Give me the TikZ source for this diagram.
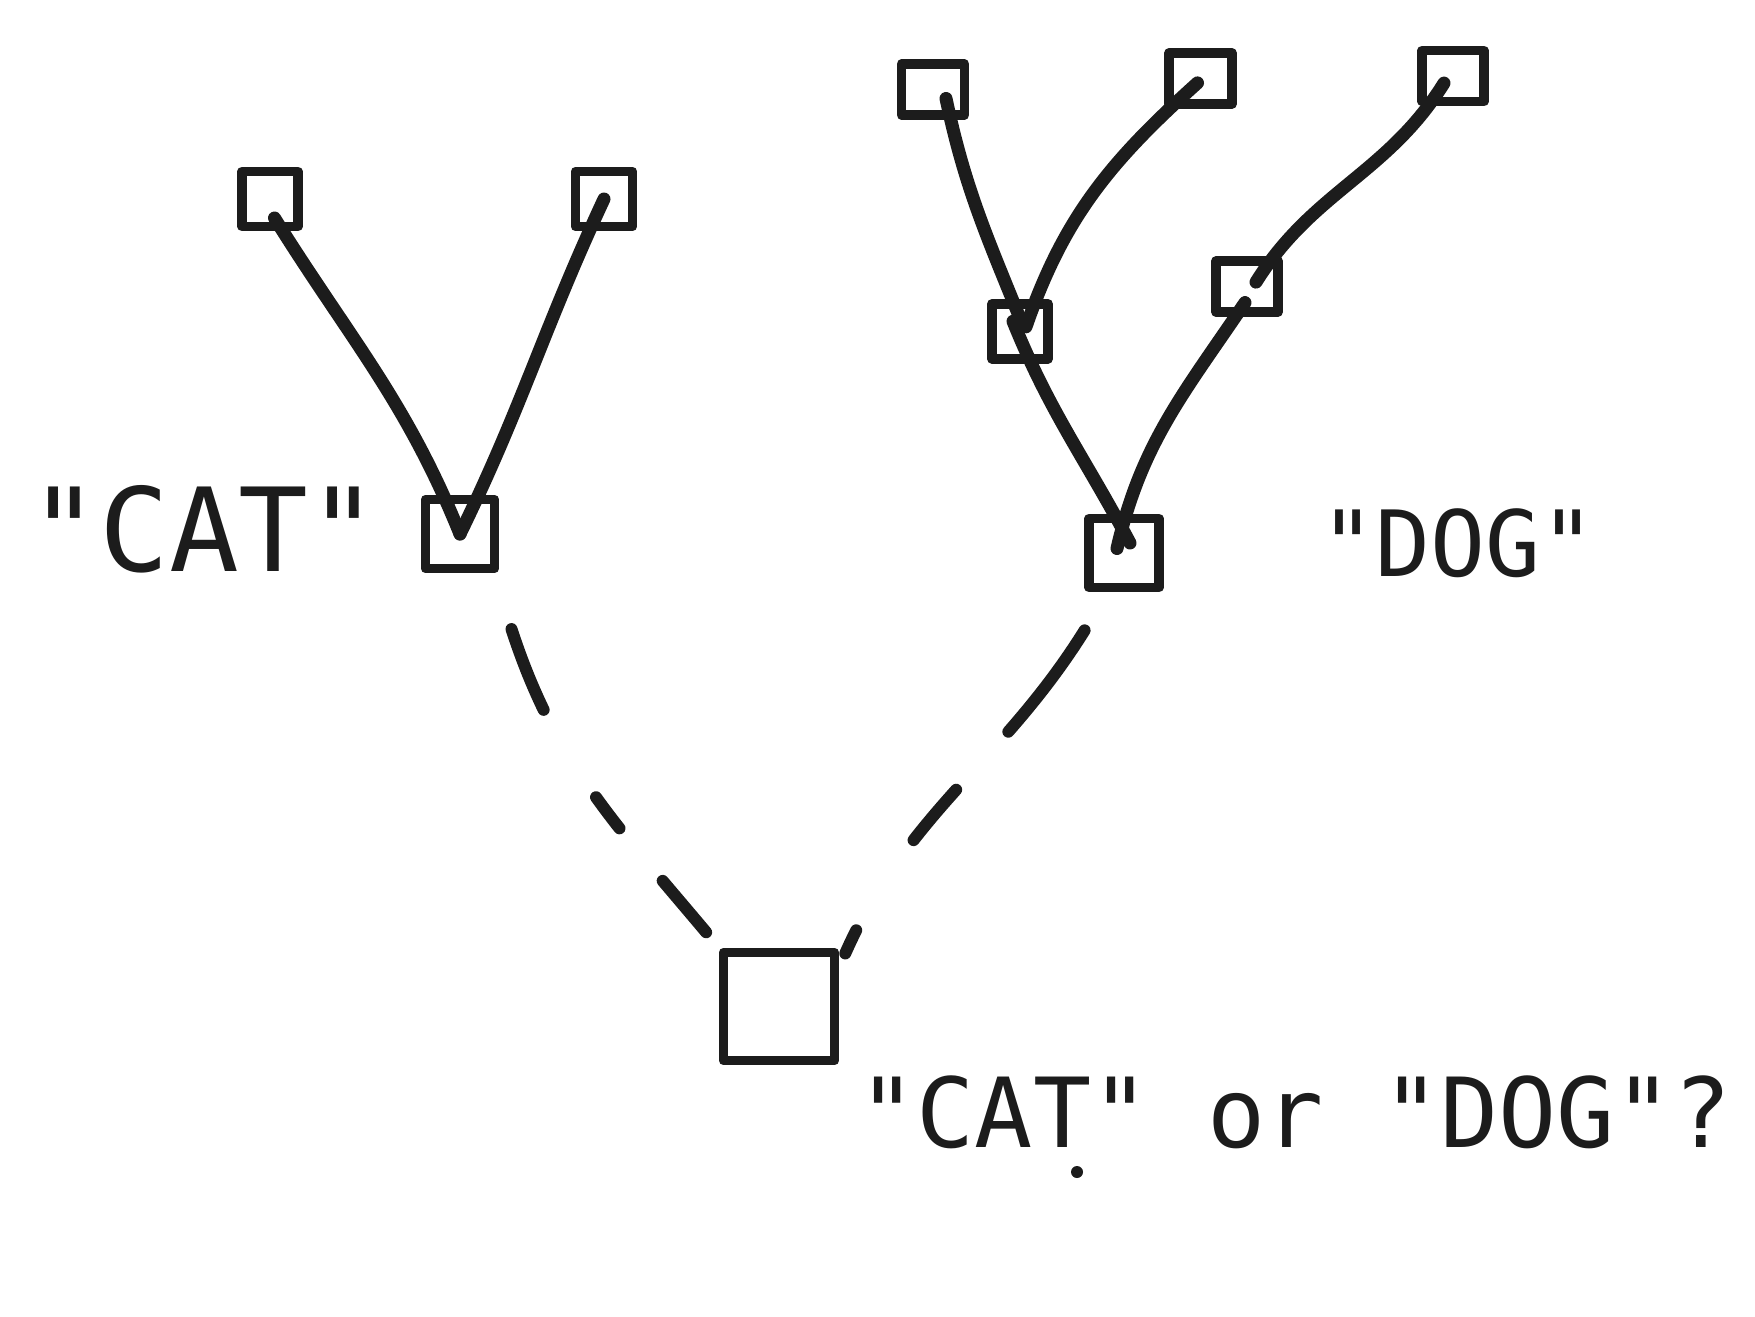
\documentclass[tikz,border=0pt]{standalone}
\usepackage{fontspec}
\newfontfamily\labelfont{DejaVu Sans Mono}
\definecolor{ink}{HTML}{1C1C1C}

\begin{document}
\begin{tikzpicture}[
        box/.style 2 args={draw=ink, line width=0.95mm, line join=round, inner sep=0pt,
            minimum width=#1, minimum height=#2},
        wire/.style={draw=ink, line width=1.3mm, line cap=round},
        guess/.style={draw=ink, line width=1.2mm, line cap=round},
        word/.style={text=ink, inner sep=0pt, anchor=base}
    ]
            \path[use as bounding box, fill=white] (0,0) rectangle (17.55,-13.16);

            \node[box={5.6mm}{5.5mm}] (l1) at (2.70,-1.99) {};
            \node[box={5.7mm}{5.5mm}] (l2) at (6.04,-1.99) {};
            \node[box={6.9mm}{6.9mm}] (cat) at (4.60,-5.34) {};
            \node[box={6.3mm}{5.1mm}] (d1) at (9.33,-0.895) {};
            \node[box={6.3mm}{5.1mm}] (d2) at (12.005,-0.784) {};
            \node[box={6.2mm}{5.1mm}] (d3) at (14.53,-0.761) {};
            \node[box={5.6mm}{5.5mm}] (d4) at (10.20,-3.313) {};
            \node[box={6.2mm}{5.1mm}] (d5) at (12.47,-2.866) {};
            \node[box={7.0mm}{6.9mm}] (dog) at (11.24,-5.53) {};
            \node[box={11.1mm}{10.8mm}] (q) at (7.79,-10.065) {};

            \node[word, font=\labelfont\fontsize{33}{33}\selectfont] (catword) at (2.04,-5.71) {"CAT"};
            \node[word, font=\labelfont\fontsize{26}{26}\selectfont] (dogword) at (14.58,-5.76) {"DOG"};
            \node[word, font=\labelfont\fontsize{27.5}{27.5}\selectfont] (askword) at (12.95,-11.47) {"CAT" or "DOG"?};

            % the "CAT" branch
            \draw[wire] ([shift={(0.045,-0.19)}]l1.center) to[out=-58, in=112] (cat.center);
            \draw[wire] (cat.center) to[out=64, in=-115] (l2.center);

            % the "DOG" branch
            \draw[wire] ([shift={(0.13,-0.09)}]d1.center) to[out=-78, in=112] ([shift={(0.02,0.08)}]d4.center);
            \draw[wire] ([shift={(-0.03,-0.045)}]d2.center) to[out=-138, in=71] ([shift={(0.06,0.045)}]d4.center);
            \draw[wire] ([shift={(-0.07,0.10)}]d4.center) to[out=-68, in=118] ([shift={(0.06,0.10)}]dog.center);
            \draw[wire] ([shift={(-0.09,-0.07)}]d3.center) to[out=-122, in=58] ([shift={(0.09,0.045)}]d5.center);
            \draw[wire] ([shift={(-0.02,-0.16)}]d5.center) to[out=-124, in=77] ([shift={(-0.07,0.045)}]dog.center);

            % which one?
            \draw[guess, dash pattern=on 8.7mm off 10.2mm on 3.9mm off 6.8mm on 8.2mm]
                ([shift={(0.515,-0.558)}]cat.south) to[out=-72, in=130] ([shift={(-0.126,0.155)}]q.north west);
            \draw[guess, dash pattern=on 12.7mm off 7.8mm on 6.6mm off 10.7mm on 3.4mm]
                ([shift={(-0.394,-0.381)}]dog.south) to[out=-122, in=66] ([shift={(0.06,-0.057)}]q.north east);

            \fill[ink] (10.77,-11.72) circle (0.6mm);
\end{tikzpicture}
\end{document}
